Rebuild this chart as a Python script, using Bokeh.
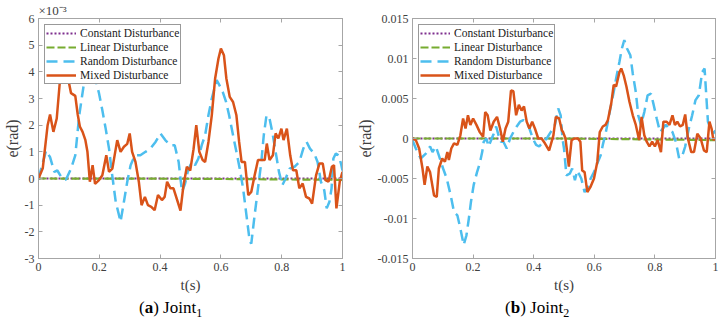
import numpy as np
from bokeh.plotting import figure
from bokeh.layouts import row, column
from bokeh.models import (Legend, LegendItem, LinearAxis, FixedTicker,
                          CustomJSTickFormatter, Range1d, Title, Div)
from bokeh.embed import file_html
from bokeh.resources import INLINE

# ---------------- data ----------------
labels = ["Constant Disturbance", "Linear Disturbance",
          "Random Disturbance", "Mixed Disturbance"]
x_ticks = [0, 0.2, 0.4, 0.6, 0.8, 1.0]
y_ticks_1 = [-3, -2, -1, 0, 1, 2, 3, 4, 5, 6]            # x10^-3
y_ticks_2 = [-0.015, -0.01, -0.005, 0, 0.005, 0.01, 0.015]

# Joint 1 (values in 1e-3 rad)
t_const_1 = [0, 1]
v_const_1 = [0, 0]
t_lin_1 = [0, 0.5, 1]
v_lin_1 = [0, -0.01, -0.05]
t_rand_1 = [0, 0.012, 0.025, 0.038, 0.052, 0.062, 0.075, 0.09, 0.107, 0.121,
            0.134, 0.15, 0.165, 0.18, 0.19, 0.199, 0.21, 0.221, 0.232, 0.241,
            0.254, 0.27, 0.281, 0.292, 0.303, 0.317, 0.335, 0.352, 0.368, 0.385,
            0.401, 0.417, 0.434, 0.448, 0.461, 0.472, 0.482, 0.492, 0.504, 0.515,
            0.526, 0.537, 0.548, 0.559, 0.57, 0.586, 0.595, 0.606, 0.617, 0.627,
            0.64, 0.651, 0.662, 0.673, 0.684, 0.695, 0.7, 0.711, 0.722, 0.733,
            0.741, 0.75, 0.76, 0.769, 0.78, 0.791, 0.802, 0.813, 0.826, 0.842,
            0.858, 0.871, 0.882, 0.893, 0.907, 0.918, 0.929, 0.94, 0.948, 0.957,
            0.964, 0.97, 0.978, 0.987, 0.995, 1.0]
v_rand_1 = [0, 0.5, 1.05, 0.8, 0.25, 0.3, 0.05, -0.05, 0.37, 0.87,
            2.37, 3.6, 4.4, 4.2, 3.6, 3.2, 2.56, 1.87, 1.12, 0.25,
            -0.87, -1.62, -0.87, -0.12, 0.5, 0.87, 0.87, 1.0, 1.12, 1.37,
            1.69, 1.44, 1.25, 1.25, 0.62, -0.5, -0.2, 0.3, 0.62, 0.5,
            0.75, 1.25, 1.62, 2.37, 3.0, 3.69, 3.5, 3.25, 2.87, 2.37,
            1.62, 1.0, 0.37, -0.37, -1.37, -2.37, -2.44, -1.37, -0.37, 0.62,
            1.62, 2.37, 2.25, 1.75, 1.0, 0.25, -0.25, 0.0, 0.37, 0.44,
            0.62, 1.12, 1.37, 1.12, 0.94, 0.62, -0.12, -0.44, -1.12, -0.87,
            -0.37, 0.75, 0.94, 0.87, 0.56, 0.3]
t_mix_1 = [0, 0.014, 0.03, 0.038, 0.049, 0.06, 0.07, 0.08, 0.09, 0.1,
           0.107, 0.121, 0.129, 0.136, 0.145, 0.154, 0.161, 0.169, 0.178, 0.186,
           0.199, 0.21, 0.223, 0.232, 0.243, 0.259, 0.27, 0.281, 0.292, 0.3,
           0.308, 0.319, 0.33, 0.339, 0.35, 0.36, 0.371, 0.382, 0.393, 0.406,
           0.415, 0.423, 0.434, 0.444, 0.467, 0.477, 0.488, 0.499, 0.51, 0.519,
           0.529, 0.54, 0.548, 0.559, 0.57, 0.581, 0.592, 0.6, 0.61, 0.618,
           0.629, 0.64, 0.651, 0.66, 0.668, 0.679, 0.69, 0.7, 0.711, 0.722,
           0.733, 0.744, 0.751, 0.76, 0.771, 0.78, 0.789, 0.799, 0.806, 0.817,
           0.828, 0.837, 0.848, 0.858, 0.869, 0.88, 0.891, 0.9, 0.913, 0.924,
           0.935, 0.944, 0.954, 0.965, 0.972, 0.98, 0.991, 1.0]
v_mix_1 = [0, 0.38, 2.0, 2.4, 1.75, 2.25, 3.6, 4.3, 4.0, 3.6,
           3.2, 3.1, 2.4, 1.95, 1.75, 1.45, 1.0, -0.12, 0.5, -0.2,
           -0.06, 0.12, 0.87, 0.25, 0.37, 1.44, 1.0, 1.19, 1.3, 1.69,
           1.0, 0.62, -0.12, -1.0, -0.69, -1.0, -1.06, -1.19, -0.62, -0.81,
           -0.69, -0.12, -0.37, -0.37, -1.2, -0.25, 0.44, 0.3, 1.1, 2.0,
           1.0, 0.69, 0.62, 1.37, 2.37, 3.75, 4.5, 4.87, 4.62, 3.75,
           3.06, 2.87, 2.37, 1.37, 0.62, 0.62, -0.62, -0.5, 0.12, 0.69,
           0.69, 0.69, 1.31, 0.69, 0.87, 1.69, 1.5, 1.87, 1.44, 1.87,
           0.87, 0.31, 0.31, -0.37, -0.19, -0.69, -0.75, -0.94, 0.12, 0.56,
           0.56, -0.06, -0.12, 0.44, 0.5, -1.12, -0.12, 0.25]

# Joint 2 (values read in 1e-3 rad, plotted in rad)
t_const_2 = [0, 1]
v_const_2 = [0, 0]
t_lin_2 = [0, 0.5, 0.75, 1]
v_lin_2 = [0, 0, -0.1, -0.2]
t_rand_2 = [0, 0.011, 0.027, 0.044, 0.058, 0.066, 0.077, 0.087, 0.101, 0.113,
            0.126, 0.137, 0.148, 0.158, 0.169, 0.178, 0.186, 0.193, 0.202, 0.213,
            0.222, 0.23, 0.235, 0.244, 0.251, 0.268, 0.276, 0.284, 0.292, 0.3,
            0.311, 0.322, 0.333, 0.344, 0.355, 0.366, 0.375, 0.386, 0.397, 0.408,
            0.418, 0.432, 0.443, 0.456, 0.47, 0.481, 0.489, 0.495, 0.5, 0.508,
            0.519, 0.527, 0.536, 0.544, 0.557, 0.568, 0.577, 0.588, 0.599, 0.61,
            0.621, 0.628, 0.636, 0.645, 0.653, 0.664, 0.672, 0.683, 0.691, 0.699,
            0.708, 0.719, 0.727, 0.737, 0.745, 0.754, 0.765, 0.776, 0.787, 0.796,
            0.806, 0.817, 0.836, 0.847, 0.858, 0.869, 0.88, 0.891, 0.9, 0.912,
            0.923, 0.934, 0.945, 0.956, 0.964, 0.975, 0.984, 0.992, 1.0]
v_rand_2 = [-0.2, -1.25, -2.5, -1.9, -1.0, -1.7, -1.0, -2.1, -3.75, -5.0,
            -7.1, -9.2, -9.6, -11.25, -13.3, -12.1, -10.0, -7.9, -5.8, -4.2,
            -3.1, -1.7, -0.4, 0, -1.0, 0.6, 1.5, 0.4, -0.4, -0.4,
            -1.25, 0, 0.8, 1.5, 2.1, 2.3, 2.1, 1.25, 0, -0.8,
            -1.0, -0.4, 0, 0.8, 1.7, 3.75, 2.9, 0.0, -1.25, -4.6,
            -4.4, -3.75, -5.2, -4.0, -5.0, -6.7, -6.25, -5.0, -4.2, -3.1,
            -2.1, -0.8, 0.4, 2.1, 3.75, 5.8, 7.5, 9.6, 11.25, 12.3,
            11.25, 10.4, 8.1, 5.8, 2.9, 1.7, 3.3, 5.4, 5.6, 4.2,
            2.5, 0.8, 1.7, 1.25, 0.8, -0.4, -2.5, -2.1, -1.0, 1.25,
            2.9, 4.8, 5.4, 8.3, 8.75, 2.1, 1.25, 0.6, 1.0]
t_mix_2 = [0, 0.011, 0.022, 0.033, 0.04, 0.049, 0.058, 0.071, 0.08, 0.087,
           0.098, 0.107, 0.115, 0.12, 0.128, 0.137, 0.148, 0.158, 0.167, 0.175,
           0.183, 0.191, 0.2, 0.211, 0.222, 0.233, 0.24, 0.248, 0.257, 0.268,
           0.279, 0.289, 0.298, 0.307, 0.316, 0.325, 0.333, 0.342, 0.351, 0.36,
           0.368, 0.377, 0.386, 0.395, 0.404, 0.415, 0.426, 0.437, 0.451, 0.465,
           0.473, 0.484, 0.493, 0.497, 0.505, 0.516, 0.525, 0.535, 0.546, 0.554,
           0.56, 0.568, 0.577, 0.588, 0.599, 0.61, 0.618, 0.628, 0.637, 0.645,
           0.656, 0.664, 0.672, 0.683, 0.689, 0.697, 0.706, 0.716, 0.727, 0.737,
           0.748, 0.756, 0.765, 0.773, 0.782, 0.791, 0.8, 0.809, 0.82, 0.828,
           0.839, 0.848, 0.858, 0.866, 0.874, 0.883, 0.892, 0.9, 0.909, 0.92,
           0.929, 0.94, 0.951, 0.962, 0.971, 0.98, 0.987, 0.993, 1.0]
v_mix_2 = [0, -0.2, -1.25, -3.75, -5.8, -3.5, -4.2, -7.1, -7.3, -3.75,
           -2.5, -2.9, -1.7, -2.7, -1.25, -0.6, -0.8, 0.4, 2.5, 1.25,
           2.9, 1.7, 2.5, 1.7, 0.8, 0.2, 3.3, 2.9, 1.0, 2.1,
           2.7, 1.25, -0.4, 1.25, 2.1, 6.0, 5.9, 2.9, 4.2, 3.5,
           4.0, 2.1, 1.25, 2.1, 1.25, 0, 0, -0.6, -1.5, 0.4,
           2.7, 2.5, 1.0, 0.8, 0, -3.5, -0.2, 0, 0, -0.4,
           -4.0, -4.2, -6.7, -6.0, -5.0, -2.9, 0.8, 1.5, 1.7, 2.3,
           4.4, 6.7, 6.5, 8.3, 8.75, 7.9, 6.5, 4.6, 2.9, 1.7,
           -0.2, 2.7, 0.4, -0.4, -1.0, -0.4, -1.0, -0.2, -1.7, 2.1,
           2.1, 1.7, 2.9, 1.7, 2.1, 1.5, 1.7, 3.0, 0, -1.7,
           -1.7, 0.6, 0, -1.5, -1.7, 2.1, 1.25, -0.2, 0]

# ---------------- style ----------------
SERIF = "Liberation Serif"
AX = "#a6a6a6"
TXT = "#404040"
COLORS = ["#7E2F8E", "#77AC30", "#4DBEEE", "#D95319"]
DASHES = ["2 2", "8 3", "11 6", "solid"]
WIDTHS = [2.0, 2.2, 2.5, 2.5]
FIG_H = 300


def style_axis(ax, ticks, code, show_labels=True):
    ax.ticker = FixedTicker(ticks=ticks)
    ax.axis_line_color = AX
    ax.major_tick_line_color = AX
    ax.major_tick_in = 4
    ax.major_tick_out = 0
    ax.minor_tick_line_color = None
    ax.major_label_text_font = SERIF
    ax.major_label_text_color = TXT
    if show_labels:
        ax.formatter = CustomJSTickFormatter(code=code)
        ax.major_label_text_font_size = "12px"
        ax.major_label_standoff = 4
    else:
        ax.formatter = CustomJSTickFormatter(code="return ''")
        ax.major_label_text_font_size = "0px"
        ax.major_label_standoff = 0


def make_fig(width, bl, br, yr, yticks, ycode, series, scale, exponent):
    p = figure(width=width, height=FIG_H, x_range=Range1d(0, 1),
               y_range=Range1d(*yr), output_backend="svg",
               toolbar_location=None, min_border_left=bl, min_border_right=br,
               min_border_top=18, min_border_bottom=FIG_H - 258)
    p.grid.visible = False
    p.outline_line_color = AX
    p.background_fill_color = "white"
    p.border_fill_color = "white"
    xcode = "return String(Math.round(tick*10)/10)"
    xa = p.below[0]
    style_axis(xa, x_ticks, xcode)
    xa.axis_label = "t(s)"
    xa.axis_label_text_font = SERIF
    xa.axis_label_text_font_style = "normal"
    xa.axis_label_text_font_size = "15px"
    xa.axis_label_text_color = TXT
    xa.axis_label_standoff = 3
    ya = p.left[0]
    style_axis(ya, yticks, ycode)
    ya.axis_label = "e(rad)"
    ya.axis_label_text_font = SERIF
    ya.axis_label_text_font_style = "normal"
    ya.axis_label_text_font_size = "16px"
    ya.axis_label_text_color = TXT
    ya.axis_label_standoff = 1

    top = LinearAxis()
    style_axis(top, x_ticks, "", show_labels=False)
    p.add_layout(top, "above")
    right = LinearAxis()
    style_axis(right, yticks, "", show_labels=False)
    p.add_layout(right, "right")

    p.add_layout(Title(text=exponent, align="left", offset=0, standoff=1,
                       text_font=SERIF, text_font_size="13px",
                       text_font_style="normal", text_color=TXT), "above")

    items = []
    for (t, v), lab, c, d, w in zip(series, labels, COLORS, DASHES, WIDTHS):
        r = p.line(t, np.array(v) * scale, line_color=c, line_dash=d,
                   line_width=w)
        items.append(LegendItem(label=lab, renderers=[r]))
    leg = Legend(items=items, location="top_left", margin=6, padding=1,
                 spacing=0, label_height=14, glyph_height=14, glyph_width=30,
                 label_standoff=4, label_text_font=SERIF,
                 label_text_font_size="11.5px", label_text_color="#1a1a1a",
                 border_line_color="#333333", border_line_width=0.8,
                 background_fill_alpha=1.0)
    p.add_layout(leg)
    return p


def caption(letter, num, width, pad):
    html = ('<div style="font-family:\'Liberation Serif\';font-size:17px;'
            'color:black;line-height:20px;margin-top:-2px;padding-left:%dpx;'
            'white-space:nowrap;">(<b>%s</b>) Joint<sub style="font-size:12px;">%s'
            '</sub></div>' % (pad, letter, num))
    return Div(text=html, width=width, height=325 - FIG_H, margin=0)


p1 = make_fig(353, 36, 11, (-3, 6), y_ticks_1, "return String(tick)",
              [(t_const_1, v_const_1), (t_lin_1, v_lin_1),
               (t_rand_1, v_rand_1), (t_mix_1, v_mix_1)],
              1.0, "×10⁻³")
p2 = make_fig(369, 57, 7, (-0.015, 0.015), y_ticks_2,
              "return String(Math.round(tick*1000)/1000)",
              [(t_const_2, v_const_2), (t_lin_2, v_lin_2),
               (t_rand_2, v_rand_2), (t_mix_2, v_mix_2)],
              1e-3, " ")

layout = row(column(p1, caption("a", "1", 353, 139), spacing=0),
             column(p2, caption("b", "2", 369, 152), spacing=0), spacing=0)
open("out.html", "w").write(file_html(layout, INLINE))
